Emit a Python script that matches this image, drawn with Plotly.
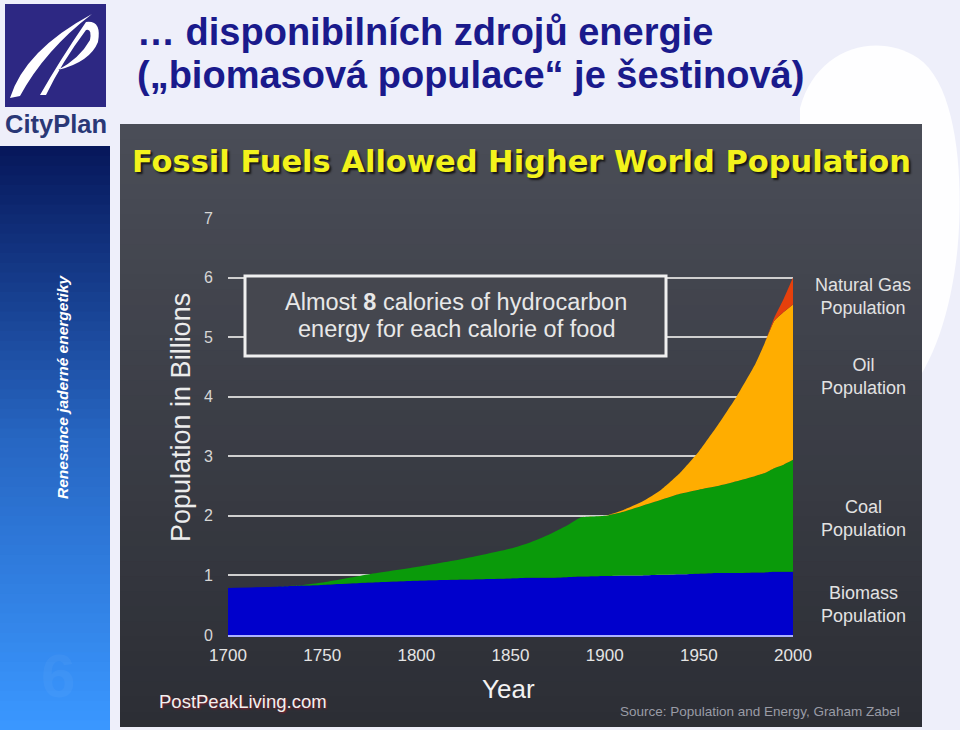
import plotly.graph_objects as go

# ---------------- data ----------------
years = [1700, 1725, 1740, 1750, 1775, 1800, 1825, 1850, 1860, 1870, 1880, 1887, 1900, 1910,
         1920, 1930, 1940, 1950, 1960, 1970, 1980, 1985, 1990, 1995, 2000]
biomass_pop = [0.79, 0.81, 0.83, 0.84, 0.88, 0.91, 0.93, 0.95, 0.96, 0.96, 0.97, 0.98, 0.99, 1.00,
               1.00, 1.01, 1.02, 1.03, 1.04, 1.04, 1.05, 1.05, 1.06, 1.06, 1.06]
coal_pop = [0.00, 0.00, 0.01, 0.04, 0.14, 0.23, 0.35, 0.50, 0.59, 0.72, 0.87, 0.99, 1.01, 1.07,
            1.17, 1.26, 1.35, 1.41, 1.46, 1.54, 1.62, 1.67, 1.74, 1.80, 1.88]
oil_pop = [0.00, 0.00, 0.00, 0.00, 0.00, 0.00, 0.00, 0.00, 0.00, 0.00, 0.00, 0.00, 0.00, 0.03,
           0.07, 0.17, 0.35, 0.64, 1.02, 1.42, 1.88, 2.18, 2.47, 2.56, 2.61]
gas_pop = [0.00, 0.00, 0.00, 0.00, 0.00, 0.00, 0.00, 0.00, 0.00, 0.00, 0.00, 0.00, 0.00, 0.00,
           0.00, 0.00, 0.00, 0.00, 0.00, 0.00, 0.00, 0.00, 0.05, 0.22, 0.45]

series_names = ["Biomass Population", "Coal Population", "Oil Population", "Natural Gas Population"]
series_labels = ["Biomass<br>Population", "Coal<br>Population", "Oil<br>Population", "Natural Gas<br>Population"]
x_ticks = [1700, 1750, 1800, 1850, 1900, 1950, 2000]
x_tick_text = ["1700", "1750", "1800", "1850", "1900", "1950", "2000"]
y_ticks = [0, 1, 2, 3, 4, 5, 6, 7]
y_tick_text = ["0", "1", "2", "3", "4", "5", "6", "7"]

title_lines = ["… disponibilních zdrojů energie", "(„biomasová populace“ je šestinová)"]
chart_title = "Fossil Fuels Allowed Higher World Population"
box_lines = ["Almost <b>8</b> calories of hydrocarbon", "energy for each calorie of food"]
sidebar_text = "Renesance jaderné energetiky"

# ---------------- styling ----------------
W, H = 960, 730
colors = ["#0000cc", "#0a9a0a", "#ffad00", "#e5400c"]
ARIAL = "Liberation Sans, Arial, sans-serif"


def px(x):
    return x / W


def py(y):
    return 1 - y / H


def mix(c1, c2, t):
    t = max(0.0, min(1.0, t))
    a = [int(c1[i:i + 2], 16) for i in (1, 3, 5)]
    b = [int(c2[i:i + 2], 16) for i in (1, 3, 5)]
    return "#" + "".join("%02x" % round(a[k] + (b[k] - a[k]) * t) for k in range(3))


def path_px(d_points, close=True):
    out = []
    for cmd, pts in d_points:
        coords = " ".join("%.5f,%.5f" % (px(x), py(y)) for x, y in pts)
        out.append(cmd + " " + coords)
    return " ".join(out) + (" Z" if close else "")


fig = go.Figure()
for name, vals, col in zip(series_names, [biomass_pop, coal_pop, oil_pop, gas_pop], colors):
    fig.add_trace(go.Scatter(x=years, y=vals, name=name, stackgroup="pop", mode="lines",
                             line=dict(width=0, color=col, shape="spline", smoothing=0.4),
                             fillcolor=col, showlegend=False, hoverinfo="x+y+name"))

shapes = []
# faint background logo on the right
shapes.append(dict(type="path", xref="paper", yref="paper", layer="below",
                   path=path_px([("M", [(800, 108)]),
                                 ("C", [(815, 50), (875, 30), (918, 58)]),
                                 ("C", [(962, 88), (964, 200), (956, 262)]),
                                 ("C", [(948, 322), (930, 372), (900, 402)]),
                                 ("L", [(800, 402)])]),
                   fillcolor="rgba(255,255,255,0.9)", line=dict(width=0)))
# dark chart panel (vertical gradient)
n = 40
top_y, bot_y = 124, 727
for i in range(n):
    y0 = top_y + (bot_y - top_y) * i / n
    y1 = min(bot_y, top_y + (bot_y - top_y) * (i + 1) / n + 2)
    shapes.append(dict(type="rect", xref="paper", yref="paper", layer="below",
                       x0=px(120), x1=px(922), y0=py(y0), y1=py(y1),
                       fillcolor=mix("#4a4d57", "#2c2e35", i / (n - 1)), line=dict(width=0)))
# sidebar gradient
n2 = 60
s_top, s_bot = 146, 730
for i in range(n2):
    t = i / (n2 - 1)
    c = mix("#07185c", "#2766c2", t / 0.5) if t < 0.5 else mix("#2766c2", "#3a97ff", (t - 0.5) / 0.5)
    y0 = s_top + (s_bot - s_top) * i / n2
    y1 = min(s_bot, s_top + (s_bot - s_top) * (i + 1) / n2 + 2)
    shapes.append(dict(type="rect", xref="paper", yref="paper", layer="below",
                       x0=px(0), x1=px(110), y0=py(y0), y1=py(y1),
                       fillcolor=c, line=dict(width=0)))
# logo square
shapes.append(dict(type="rect", xref="paper", yref="paper", layer="below",
                   x0=px(5), x1=px(106), y0=py(4), y1=py(107),
                   fillcolor="#2d2883", line=dict(width=0)))
# logo white swooshes
shapes.append(dict(type="path", xref="paper", yref="paper", layer="below",
                   path=path_px([("M", [(10, 98)]),
                                 ("Q", [(25, 50), (92, 14)]),
                                 ("Q", [(45, 50), (20, 96)])]),
                   fillcolor="white", line=dict(width=0)))
shapes.append(dict(type="path", xref="paper", yref="paper", layer="below",
                   path=path_px([("M", [(40, 95)]),
                                 ("Q", [(60, 60), (86, 22)]),
                                 ("Q", [(102, 20), (98, 42)]),
                                 ("Q", [(90, 62), (58, 70)]),
                                 ("Q", [(80, 58), (90, 40)]),
                                 ("Q", [(92, 28), (86, 30)]),
                                 ("Q", [(62, 62), (46, 95)])]),
                   fillcolor="white", line=dict(width=0)))
# annotation box
shapes.append(dict(type="rect", xref="paper", yref="paper", layer="above",
                   x0=px(245), x1=px(666), y0=py(276), y1=py(356),
                   fillcolor="#45474f", line=dict(color="#f0f0f0", width=3)))

ann = []
for i, line in enumerate(title_lines):
    ann.append(dict(x=px(135), y=py(32 + 43 * i), xref="paper", yref="paper", xanchor="left",
                    yanchor="middle", text=line, showarrow=False,
                    font=dict(family=ARIAL, size=38, color="#1a1a8c", weight="bold")))
ann.append(dict(x=px(56), y=py(124), xref="paper", yref="paper", xanchor="center", yanchor="middle",
                text="CityPlan", showarrow=False,
                font=dict(family=ARIAL, size=25.5, color="#2a3876", weight="bold")))
ann.append(dict(x=px(62), y=py(387), xref="paper", yref="paper", xanchor="center", yanchor="middle",
                text=sidebar_text, showarrow=False, textangle=-90,
                font=dict(family=ARIAL, size=15.5, color="white", weight="bold", style="italic")))
ann.append(dict(x=px(58), y=py(675), xref="paper", yref="paper", xanchor="center", yanchor="middle",
                text="6", showarrow=False,
                font=dict(family=ARIAL, size=62, color="rgba(255,255,255,0.04)", weight="bold")))
ann.append(dict(x=px(521), y=py(162), xref="paper", yref="paper", xanchor="center", yanchor="middle",
                text=chart_title, showarrow=False,
                font=dict(family="DejaVu Sans", size=30.5, color="#f3f31c", weight="bold",
                          shadow="2px 2px 2px #151515")))
ann.append(dict(x=px(181), y=py(418), xref="paper", yref="paper", xanchor="center", yanchor="middle",
                text="Population in Billions", showarrow=False, textangle=-90,
                font=dict(family=ARIAL, size=27, color="#ececec")))
ann.append(dict(x=px(508), y=py(689), xref="paper", yref="paper", xanchor="center", yanchor="middle",
                text="Year", showarrow=False,
                font=dict(family=ARIAL, size=26, color="#f2f2f2")))
for i, line in enumerate(box_lines):
    ann.append(dict(x=px(456), y=py(302 + 27 * i), xref="paper", yref="paper",
                    xanchor="center", yanchor="middle", text=line, showarrow=False,
                    font=dict(family=ARIAL, size=23.5, color="#e8e8e8")))
label_y = [604, 518, 376, 297]
for lab, ly in zip(series_labels, label_y):
    ann.append(dict(x=px(863), y=py(ly), xref="paper", yref="paper", xanchor="center", yanchor="middle",
                    text=lab, showarrow=False, align="center",
                    font=dict(family=ARIAL, size=18, color="#e2e2e2")))
ann.append(dict(x=px(157), y=py(701), xref="paper", yref="paper", xanchor="left", yanchor="middle",
                text="PostPeakLiving.com", showarrow=False,
                font=dict(family=ARIAL, size=18.5, color="#f0f0f0", shadow="1px 1px 2px #8a1a2a")))
ann.append(dict(x=px(902), y=py(711), xref="paper", yref="paper", xanchor="right", yanchor="middle",
                text="Source: Population and Energy, Graham Zabel", showarrow=False,
                font=dict(family=ARIAL, size=13.5, color="#9a9ca6")))

fig.update_layout(
    width=W, height=H, margin=dict(l=0, r=0, t=0, b=0, pad=0, autoexpand=False),
    paper_bgcolor="#eeeffa", plot_bgcolor="rgba(0,0,0,0)", showlegend=False,
    shapes=shapes, annotations=ann,
    xaxis=dict(domain=[px(228), px(793)], range=[1700, 2000], tickvals=x_ticks, ticktext=x_tick_text,
               tickfont=dict(family=ARIAL, size=17, color="#e4e4e4"), showgrid=False, zeroline=False,
               showline=True, linecolor="#aab0ff", linewidth=2, ticks="", ticklabelstandoff=4,
               automargin=False, fixedrange=True),
    yaxis=dict(domain=[py(635), py(218)], range=[0, 7], tickvals=y_ticks, ticktext=y_tick_text,
               tickfont=dict(family=ARIAL, size=16, color="#d6d6d6"), showgrid=True,
               gridcolor="#cfcfcf", gridwidth=1.5, zeroline=False, showline=False, ticks="",
               ticklabelstandoff=14, automargin=False, fixedrange=True),
)

fig.write_html("out.html")
